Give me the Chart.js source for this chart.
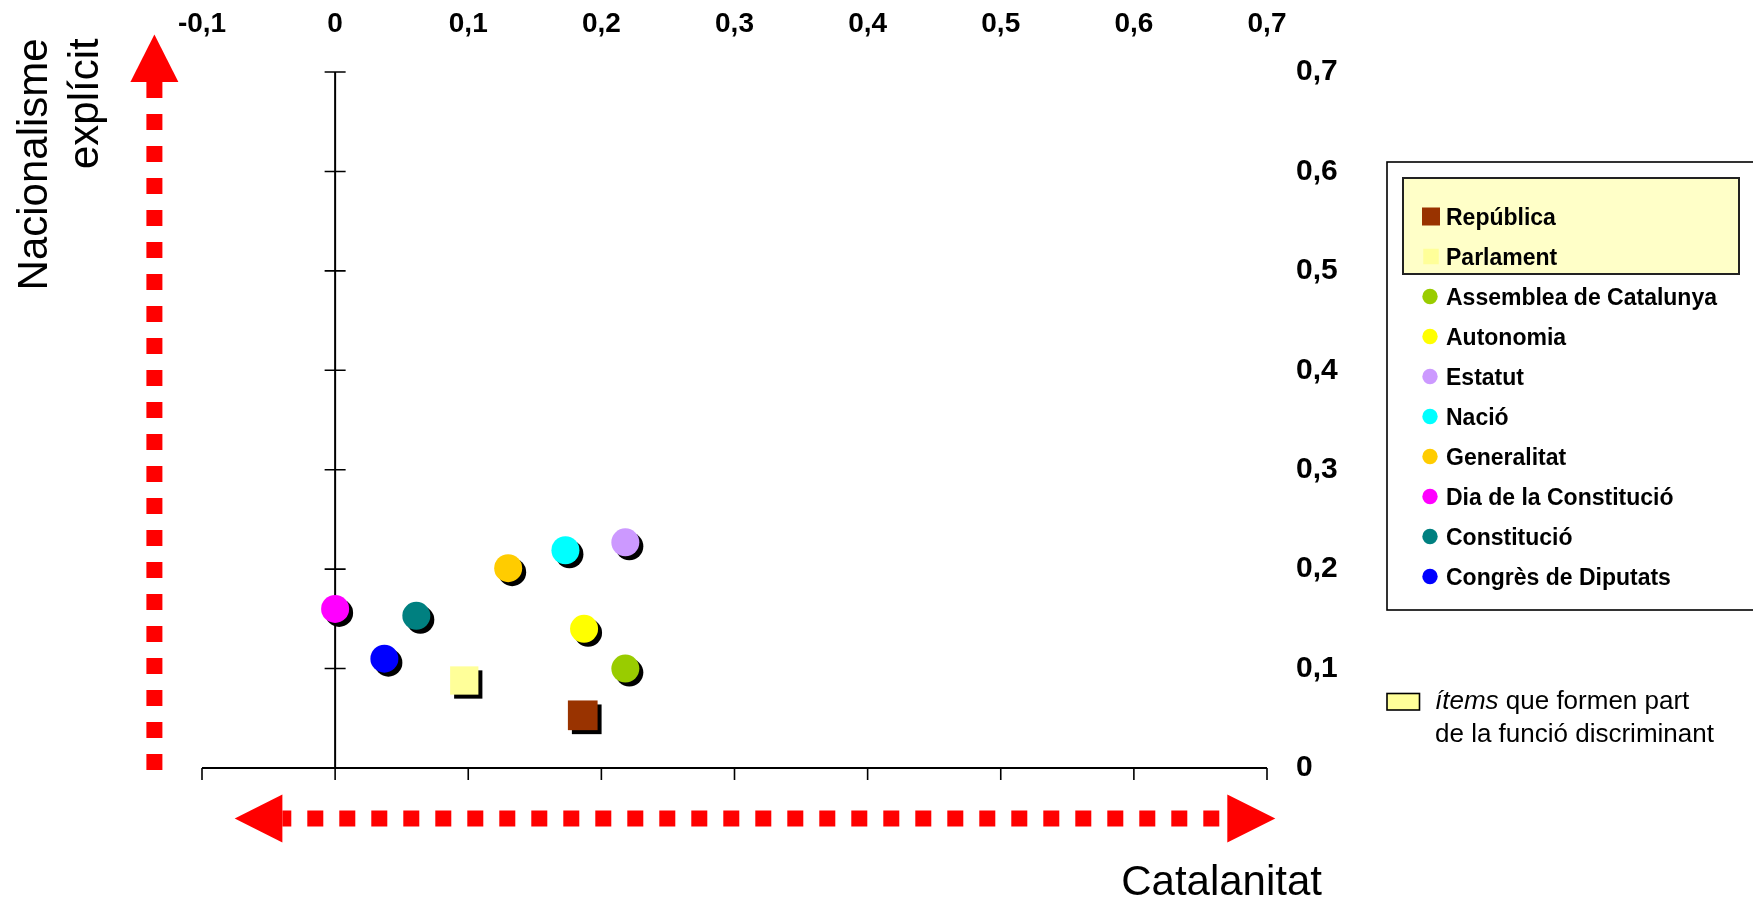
<!DOCTYPE html>
<html>
<head>
<meta charset="utf-8">
<script src="https://cdn.jsdelivr.net/npm/chart.js@4.4.1/dist/chart.umd.min.js"></script>
<style>
  html, body { margin: 0; padding: 0; background: #fff; }
  .wrap { position: relative; width: 1753px; height: 901px; }
</style>
</head>
<body>
<div class="wrap"><canvas id="myChart"></canvas></div>
<script>
// items (legend order)
const labels = [
  'República',
  'Parlament',
  'Assemblea de Catalunya',
  'Autonomia',
  'Estatut',
  'Nació',
  'Generalitat',
  'Dia de la Constitució',
  'Constitució',
  'Congrès de Diputats'
];
const catalanitat  = [0.186, 0.097, 0.218, 0.187, 0.218, 0.173, 0.130, 0.000, 0.061, 0.037];
const nacionalisme = [0.053, 0.088, 0.100, 0.140, 0.227, 0.219, 0.201, 0.160, 0.153, 0.110];
const xTicks = [-0.1, 0, 0.1, 0.2, 0.3, 0.4, 0.5, 0.6, 0.7];
const yTicks = [0, 0.1, 0.2, 0.3, 0.4, 0.5, 0.6, 0.7];

const colors = ['#993300', '#FFFF99', '#99CC00', '#FFFF00', '#CC99FF', '#00FFFF', '#FFCC00', '#FF00FF', '#008080', '#0000FF'];
const shapes = ['rect', 'rect', 'circle', 'circle', 'circle', 'circle', 'circle', 'circle', 'circle', 'circle'];
const nHighlighted = 2; // first items are part of the discriminant function

const FONT = '"Liberation Sans", Arial, sans-serif';

function fmt(v) {
  return String(Math.round(v * 10) / 10).replace('.', ',');
}

const datasets = labels.map((name, i) => ({
  label: name,
  data: [{ x: catalanitat[i], y: nacionalisme[i] }],
  backgroundColor: colors[i],
  borderWidth: 0,
  pointStyle: shapes[i],
  pointRadius: shapes[i] === 'rect' ? (i === 0 ? 21 : 20) : 14,
  pointHoverRadius: shapes[i] === 'rect' ? (i === 0 ? 21 : 20) : 14
}));

// axes crossing at 0, drawn under the markers; markers get a hard black shadow
const crossAxes = {
  id: 'crossAxes',
  beforeDatasetsDraw(chart) {
    const { ctx, scales: { x, y } } = chart;
    const x0 = x.getPixelForValue(0);
    const y0 = y.getPixelForValue(0);
    const yTop = y.getPixelForValue(yTicks[yTicks.length - 1]);
    const xL = x.getPixelForValue(xTicks[0]);
    const xR = x.getPixelForValue(xTicks[xTicks.length - 1]);
    ctx.save();
    ctx.strokeStyle = '#000';
    ctx.lineWidth = 2;
    ctx.beginPath();
    ctx.moveTo(xL, y0); ctx.lineTo(xR, y0);
    ctx.moveTo(x0, y0); ctx.lineTo(x0, yTop);
    ctx.stroke();
    ctx.lineWidth = 1.6;
    ctx.beginPath();
    xTicks.forEach(v => {
      const px = x.getPixelForValue(v);
      ctx.moveTo(px, y0); ctx.lineTo(px, y0 + 12);
    });
    yTicks.forEach(v => {
      const py = y.getPixelForValue(v);
      ctx.moveTo(x0 - 10.5, py); ctx.lineTo(x0 + 10.5, py);
    });
    ctx.stroke();
    ctx.restore();

    ctx.save();
    ctx.shadowColor = '#000';
    ctx.shadowOffsetX = 4;
    ctx.shadowOffsetY = 4;
    ctx.shadowBlur = 0;
  },
  afterDatasetsDraw(chart) {
    chart.ctx.restore();
  }
};

// red dashed arrows, axis titles, legend, footnote
const decorations = {
  id: 'decorations',
  afterDraw(chart) {
    const { ctx, chartArea: area } = chart;
    ctx.save();

    // arrows
    ctx.fillStyle = '#FF0000';
    ctx.strokeStyle = '#FF0000';
    ctx.lineWidth = 16;
    ctx.setLineDash([16, 16]);

    const vx = area.left - 47.6;
    const vTip = area.top - 37.4, vBase = area.top + 10;
    ctx.beginPath();
    ctx.moveTo(vx, vBase); ctx.lineTo(vx, area.bottom + 2.6);
    ctx.stroke();
    ctx.beginPath();
    ctx.moveTo(vx, vTip); ctx.lineTo(vx + 24, vBase); ctx.lineTo(vx - 24, vBase);
    ctx.closePath(); ctx.fill();

    const hy = area.bottom + 50.6;
    const rTip = area.right + 8.3, rBase = area.right - 39.7;
    const lTip = area.left + 32.7, lBase = area.left + 80.4;
    ctx.beginPath();
    ctx.moveTo(area.right - 47.7, hy); ctx.lineTo(lBase, hy);
    ctx.stroke();
    ctx.beginPath();
    ctx.moveTo(rTip, hy); ctx.lineTo(rBase, hy - 24); ctx.lineTo(rBase, hy + 24);
    ctx.closePath(); ctx.fill();
    ctx.beginPath();
    ctx.moveTo(lTip, hy); ctx.lineTo(lBase, hy - 24); ctx.lineTo(lBase, hy + 24);
    ctx.closePath(); ctx.fill();
    ctx.setLineDash([]);

    // axis titles
    ctx.fillStyle = '#000';
    ctx.font = '42px ' + FONT;
    ctx.textBaseline = 'alphabetic';
    ctx.textAlign = 'right';
    ctx.fillText('Catalanitat', 1322, 895);
    ctx.save();
    ctx.translate(46.7, 38.3);
    ctx.rotate(-Math.PI / 2);
    ctx.fillText('Nacionalisme', 0, 0);
    ctx.fillText('explícit', 0, 51);
    ctx.restore();

    // legend
    const lg = { left: 1387, top: 162, bottom: 610 };
    ctx.lineWidth = 1.6;
    ctx.strokeStyle = '#000';
    ctx.strokeRect(lg.left, lg.top, chart.width - lg.left + 10, lg.bottom - lg.top);
    ctx.fillStyle = '#FFFFC8';
    ctx.fillRect(1403, 178, 336, 96);
    ctx.lineWidth = 2;
    ctx.strokeStyle = '#222';
    ctx.strokeRect(1403, 178, 336, 96);

    ctx.font = 'bold 23px ' + FONT;
    ctx.textAlign = 'left';
    chart.data.datasets.forEach((ds, i) => {
      const base = 225 + 40 * i;
      const cy = base - 8.5;
      ctx.fillStyle = ds.backgroundColor;
      if (ds.pointStyle === 'rect') {
        const s = i === 0 ? 18 : 15.5;
        ctx.fillRect(1431 - s / 2, cy - s / 2, s, s);
      } else {
        ctx.beginPath();
        ctx.arc(1430, cy, 7.7, 0, Math.PI * 2);
        ctx.fill();
      }
      ctx.fillStyle = '#000';
      ctx.fillText(ds.label, 1446, base);
    });

    // footnote
    ctx.fillStyle = colors[1];
    ctx.fillRect(1387, 693.5, 32.5, 16.5);
    ctx.lineWidth = 1.6;
    ctx.strokeStyle = '#000';
    ctx.strokeRect(1387, 693.5, 32.5, 16.5);
    ctx.fillStyle = '#000';
    ctx.font = 'italic 26px ' + FONT;
    ctx.fillText('ítems', 1435, 709);
    const w = ctx.measureText('ítems').width;
    ctx.font = '26px ' + FONT;
    ctx.fillText(' que formen part', 1435 + w, 709);
    ctx.fillText('de la funció discriminant', 1435, 741.5);

    ctx.restore();
  }
};

const config = {
  type: 'scatter',
  data: { datasets: datasets },
  options: {
    responsive: true,
    maintainAspectRatio: false,
    animation: false,
    events: [],
    layout: {
      padding: { left: 202, top: 0, right: 0, bottom: 133 }
    },
    scales: {
      x: {
        type: 'linear',
        position: 'top',
        min: xTicks[0],
        max: xTicks[xTicks.length - 1],
        afterBuildTicks: s => { s.ticks = xTicks.map(v => ({ value: v })); },
        afterFit: s => { s.height = 72; },
        grid: { display: false, drawTicks: false },
        border: { display: false },
        ticks: {
          padding: 31,
          color: '#000',
          maxRotation: 0,
          font: { family: FONT, size: 28, weight: 'bold' },
          callback: v => fmt(v)
        }
      },
      y: {
        type: 'linear',
        position: 'right',
        min: yTicks[0],
        max: yTicks[yTicks.length - 1],
        afterBuildTicks: s => { s.ticks = yTicks.map(v => ({ value: v })); },
        afterFit: s => { s.width = 486; },
        grid: { display: false, drawTicks: false },
        border: { display: false },
        ticks: {
          padding: 29,
          color: '#000',
          font: { family: FONT, size: 30, weight: 'bold' },
          callback: v => fmt(v)
        }
      }
    },
    plugins: {
      legend: { display: false },
      tooltip: { enabled: false }
    }
  },
  plugins: [crossAxes, decorations]
};

const myChart = new Chart(document.getElementById('myChart'), config);
</script>
</body>
</html>
